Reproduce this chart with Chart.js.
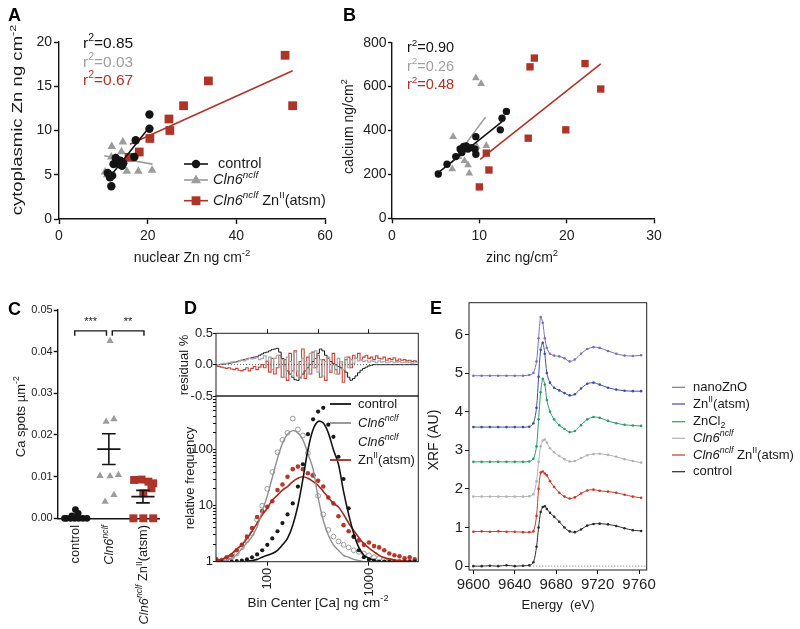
<!DOCTYPE html>
<html><head><meta charset="utf-8">
<script src="https://cdn.jsdelivr.net/npm/chart.js@4.4.1/dist/chart.umd.min.js"></script>
<style>
html,body{margin:0;padding:0;background:#fff;}
body{width:800px;height:629px;position:relative;overflow:hidden;}
canvas{position:absolute;left:0;top:0;}
</style></head><body>
<canvas id="cA" width="800" height="629"></canvas>
<canvas id="cB" width="800" height="629"></canvas>
<canvas id="cC" width="800" height="629"></canvas>
<canvas id="cD1" width="800" height="629"></canvas>
<canvas id="cD2" width="800" height="629"></canvas>
<canvas id="cE" width="800" height="629"></canvas>
<script>
// ================= DATA =================
// Panel A: nuclear Zn (x) vs cytoplasmic Zn (y)
const aCtrlX = [11.8, 11.5, 12.0, 11.0, 12.3, 13.0, 12.8, 13.5, 14.2, 14.5, 13.8, 17.0, 17.3, 20.4, 20.4];
const aCtrlY = [3.7, 4.7, 4.9, 5.2, 6.2, 6.4, 6.9, 6.2, 6.0, 6.3, 6.6, 7.0, 8.9, 10.2, 11.8];
const aClnX = [10.4, 11.9, 14.4, 14.1, 11.8, 13.3, 15.3, 17.9, 21.0, 12.8, 10.9];
const aClnY = [5.3, 8.2, 8.7, 7.6, 7.0, 6.6, 5.4, 5.4, 5.5, 6.9, 5.0];
const aZnX = [15.8, 18.1, 20.5, 24.8, 25.0, 28.1, 33.7, 51.0, 52.7];
const aZnY = [6.97, 7.57, 9.1, 11.3, 10.0, 12.8, 15.6, 18.5, 12.8];
const aFitCtrlX = [10.9, 20.4], aFitCtrlY = [4.4, 10.4];
const aFitClnX = [10.2, 21.1], aFitClnY = [7.15, 6.2];
const aFitZnX = [16.0, 52.7], aFitZnY = [8.45, 16.76];
const aR2 = ['0.85', '0.03', '0.67'];
const aTicksX = [0, 20, 40, 60], aTicksY = [0, 5, 10, 15, 20];

// Panel B: zinc (x) vs calcium (y)
const bCtrlX = [5.3, 6.3, 7.3, 7.8, 8.2, 8.7, 9.1, 9.6, 9.6, 9.5, 12.4, 12.6, 13.1, 8.0, 8.5];
const bCtrlY = [202, 246, 281, 316, 327, 316, 322, 372, 292, 315, 403, 456, 487, 300, 330];
const bClnX = [9.6, 10.2, 7.0, 10.8, 9.7, 8.3, 8.7, 8.85, 6.9, 7.6];
const bClnY = [639, 613, 372, 330, 327, 262, 243, 205, 225, 280];
const bZnX = [16.3, 15.8, 22.1, 23.9, 19.9, 15.6, 10.8, 11.1, 10.0];
const bZnY = [730, 690, 705, 589, 403, 365, 297, 220, 143];
const bFitCtrlX = [5.2, 12.6], bFitCtrlY = [205, 440];
const bFitClnX = [6.8, 10.7], bFitClnY = [251, 461];
const bFitZnX = [10.1, 23.9], bFitZnY = [269, 703];
const bR2 = ['0.90', '0.26', '0.48'];
const bTicksX = [0, 10, 20, 30], bTicksY = [0, 200, 400, 600, 800];

// Panel C: Ca spots per um^2 (dot plot, group index + jitter)
const cCtrlVals = [0, 0, 0, 0, 0, 0, 0, 0.0006, 0.0012, 0.0021];
const cCtrlJit  = [-0.24, -0.12, 0.0, 0.12, 0.24, 0.36, -0.3, -0.08, 0.1, 0.02];
const cClnVals  = [0.0426, 0.0232, 0.0238, 0.0102, 0.0101, 0.0104, 0.0040, 0.0056];
const cClnJit   = [0.035, -0.08, 0.15, -0.26, 0.035, 0.28, -0.11, 0.15];
const cZnVals   = [0.0092, 0.0093, 0.0088, 0.0084, 0.0072, 0.0060, 0, 0, 0];
const cZnJit    = [-0.26, -0.04, 0.16, 0.30, 0.25, 0.01, -0.28, 0.01, 0.30];
const cMean = [0.0003, 0.0166, 0.0052];
const cSem  = [0.0002, 0.0037, 0.0015];
const cBrFrom = [0.0, 1.1], cBrTo = [0.93, 2.03], cBrLabel = ['***', '**'];
const cBrY = 0.0450, cBrDrop = 0.0438;
const cTicksY = [0, 0.01, 0.02, 0.03, 0.04, 0.05];

// Panel D: Ca histogram (bin centers in ng/cm^2)
const dBins = [31.6,35.5,39.8,44.7,50.1,56.2,63.1,70.8,79.4,89.1,100,112,126,141,158,178,200,224,251,282,316,355,398,447,501,562,631,708,794,891,1000,1122,1259,1413,1585,1778,1995,2239,2512,2818];
const dCtrlDots = [1,1,1,1,1.02,1.05,1.1,1.2,1.35,1.6, 2.0,2.6,3.5,4.9,7,11,22,55,190,350, 480,560,280,170,75,30,9,2.8,1.6,1.2, 1.1,1.05,1,1,1,1,1,1,1,1];
const dCtrlFit  = [1,1,1,1,1,1,1.02,1.05,1.1,1.2, 1.3,1.4,1.6,2.0,2.6,4.5,10,30,100,230, 320,300,200,100,55,18,7,3.2,1.8,1.3, 1.15,1.05,1,1,1,1,1,1,1,1];
const dClnDots  = [1,1.05,1.1,1.2,1.4,1.8,2.4,3.2,5.6,10, 20,40,90,150,200,360,230,180,87,35, 15,7,3.7,2.8,2.3,2.0,1.8,1.6,1.5,1.4, 1.3,1.2,1.15,1.1,1.05,1,1,1,1,1];
const dClnFit   = [1,1,1.05,1.15,1.35,1.7,2.2,2.8,4.2,8, 15,32,70,130,190,220,200,150,85,45, 14,5.5,3.0,2.0,1.6,1.3,1.2,1.1,1.05,1, 1,1,1,1,1,1,1,1,1,1];
const dZnDots   = [1.1,1.05,1.2,1.3,1.6,2.0,2.8,4.0,6.3,8, 9.6,12,19,24,33,45,50,45,38,35, 28,22,14,11,6.5,4.5,3.5,2.8,2.4,2.0, 2.2,1.9,1.8,1.6,1.4,1.3,1.25,1.15,1.2,1.1];
const dZnFit    = [1.05,1.1,1.2,1.4,1.7,2.0,2.6,3.5,4.9,6.8, 9,12.6,15.5,19,22,27,31,33,31,27, 23,18,14,11,9.5,7,4.9,3.6,2.7,2.1, 1.75,1.5,1.3,1.18,1.12,1.07,1.04,1.02,1.01,1.0];
// residuals use finer bins
const dResBins = [31.6,33.5,35.5,37.6,39.8,42.2,44.7,47.3,50.1,53.1,56.2,59.6,63.1,66.8,70.8,75.0,79.4,84.1,89.1,94.4,100,106,112,119,126,133,141,150,158,168,178,188,200,211,224,237,251,266,282,299,316,335,355,376,398,422,447,473,501,531,562,596,631,668,708,750,794,841,891,944,1000,1059,1122,1189,1259,1334,1413,1496,1585,1679,1778,1884,1995,2113,2239,2371,2512,2661,2818,2985];
const dResCtrl = [0,0,0.005,0.01,0.015,0.02,0.03,0.04,0.05,0.06, 0.07,0.08,0.09,0.1,0.11,0.12,0.13,0.15,0.17,0.19, 0.2,0.22,0.24,0.25,0.26,0.2,0.1,0.0,-0.1,-0.15, -0.2,-0.24,-0.25,-0.2,-0.15,-0.1,-0.05,0.0,0.05,0.1, 0.18,0.25,0.22,0.15,0.1,0.05,0.02,0.0,-0.03,-0.05, -0.08,-0.12,-0.2,-0.25,-0.22,-0.18,-0.13,-0.09,-0.06,-0.04, -0.02,-0.01,0,0,0,0,0,0,0,0, 0,0,0,0,0,0,0,0,0,0];
const dResCln = [0,0,0.01,0.02,0.02,0.03,0.04,0.05,0.04,0.06, 0.07,0.06,0.08,0.1,0.09,0.1,0.12,0.08,0.1,0.14, 0.06,0.12,-0.08,0.1,0.15,-0.05,0.08,-0.2,0.12,0.05, -0.18,0.2,-0.1,-0.22,0.1,0.05,-0.15,0.18,-0.05,0.22, -0.12,0.08,-0.18,0.05,0.12,-0.1,0.0,-0.15,0.1,0.05, -0.08,0.12,-0.05,0.08,0.02,0.1,0.06,0.08,0.05,0.07, 0.04,0.06,0.05,0.03,0.06,0.04,0.05,0.03,0.04,0.05, 0.03,0.04,0.05,0.03,0.04,0.03,0.04,0.02,0.03,0.03];
const dResZn = [-0.02,-0.03,-0.04,-0.05,-0.06,-0.05,-0.07,-0.08,-0.06,-0.09, -0.1,-0.08,-0.05,-0.1,-0.06,-0.03,-0.08,-0.04,0.0,-0.05, 0.05,-0.12,0.1,-0.15,-0.05,0.15,-0.2,0.08,-0.25,0.18, -0.1,0.22,-0.18,0.05,0.25,-0.22,0.12,-0.15,0.2,-0.05, 0.15,-0.2,0.08,-0.25,0.1,-0.12,0.18,-0.08,-0.15,0.05, -0.28,0.08,0.12,-0.05,0.15,0.1,0.18,0.08,0.12,0.15, 0.1,0.12,0.08,0.14,0.1,0.09,0.12,0.07,0.1,0.08, 0.11,0.06,0.09,0.07,0.08,0.06,0.07,0.05,0.06,0.05];
const dTicksRes = [-0.5, 0, 0.5];
const dTicksTop = [100, 316, 1000];
const dTicksX = [100, 1000];
const dTicksYMajor = [1, 10, 100];

// Panel E: Zn K-edge XANES spectra (offset)
const eE = [9600,9608,9616,9624,9632,9640,9648,9654,9658,9661,9663,9665,9667,9669,9671,9674,9678,9683,9688,9693,9698,9704,9710,9716,9722,9730,9738,9746,9754,9762];
const eNano  = [4.93,4.93,4.93,4.93,4.93,4.93,4.93,4.95,5.0,5.3, 5.9,6.45,6.3,5.9,5.65,5.5,5.45,5.43,5.38,5.3, 5.35,5.5,5.62,5.67,5.65,5.57,5.5,5.45,5.44,5.46];
const eAtsm  = [3.6,3.6,3.6,3.6,3.6,3.6,3.6,3.61,3.7,4.1, 4.9,5.6,5.78,5.5,5.0,4.75,4.62,4.55,4.48,4.42, 4.45,4.6,4.72,4.75,4.7,4.62,4.57,4.54,4.53,4.53];
const eZnCl2 = [2.7,2.7,2.7,2.7,2.7,2.7,2.7,2.71,2.78,3.1, 3.8,4.5,4.85,4.7,4.3,4.0,3.8,3.65,3.55,3.47, 3.5,3.65,3.8,3.86,3.84,3.76,3.7,3.66,3.64,3.63];
const eCln   = [1.8,1.8,1.8,1.8,1.8,1.8,1.8,1.81,1.86,2.2, 2.7,3.1,3.25,3.28,3.2,3.05,2.95,2.85,2.77,2.71, 2.72,2.8,2.87,2.9,2.91,2.88,2.83,2.77,2.72,2.68];
const eClnZn = [0.89,0.9,0.89,0.9,0.89,0.89,0.88,0.88,0.9,1.3, 2.0,2.42,2.45,2.4,2.35,2.2,2.05,1.9,1.8,1.75, 1.78,1.88,1.96,1.98,1.95,1.93,1.9,1.85,1.8,1.77];
const eCtrl  = [0,0,0.01,0,0.02,0,0.01,0.02,0.1,0.5, 1.0,1.4,1.53,1.55,1.48,1.38,1.28,1.15,1.0,0.9, 0.88,0.95,1.05,1.09,1.1,1.08,1.04,0.98,0.93,0.91];
const eTicksX = [9600, 9640, 9680, 9720, 9760];
const eTicksY = [0, 1, 2, 3, 4, 5, 6];

// ================= HELPERS =================
const FONT = "'Liberation Sans', Arial, Helvetica, sans-serif";
const W = 800, H = 629, YW = 60, XH = 45;
const BLACK = '#141414', GRAY = '#9c9c9c', RED = '#ad3428';
const T=(t,c)=>({t,c}), I=(t,c)=>({t,i:1,c}), S=(t,c)=>({t,sup:1,c}), SI=(t,c)=>({t,sup:1,i:1,c}), SB=(t,c)=>({t,sub:1,c});

function rich(ctx, segs, x, y, o) {
  const size = o.size || 14;
  const f = s => `${s.i ? 'italic ' : ''}${o.bold ? 'bold ' : ''}${(s.sup || s.sub) ? (size * 0.68).toFixed(1) : size}px ${FONT}`;
  let w = 0; segs.forEach(s => { ctx.font = f(s); w += ctx.measureText(s.t).width; });
  ctx.save(); ctx.translate(x, y); if (o.rot) ctx.rotate(o.rot); if (o.sx) ctx.scale(o.sx, 1);
  let cx = o.align === 'center' ? -w / 2 : o.align === 'right' ? -w : 0;
  ctx.textBaseline = 'middle'; ctx.textAlign = 'left';
  segs.forEach(s => {
    ctx.font = f(s); ctx.fillStyle = s.c || o.color || '#1a1a1a';
    const dy = s.sup ? -size * 0.36 : s.sub ? size * 0.28 : 0;
    ctx.fillText(s.t, cx, dy); cx += ctx.measureText(s.t).width;
  });
  ctx.restore();
}
function marker(ctx, style, x, y, r, fill) {
  ctx.save(); ctx.beginPath();
  if (style === 'circle') ctx.arc(x, y, r, 0, Math.PI * 2);
  else if (style === 'rect') ctx.rect(x - r, y - r, 2 * r, 2 * r);
  else { ctx.moveTo(x, y - r * 1.1); ctx.lineTo(x + r, y + r * 0.65); ctx.lineTo(x - r, y + r * 0.65); ctx.closePath(); }
  ctx.fillStyle = fill; ctx.fill(); ctx.restore();
}
function hline(ctx, x1, x2, y, color, w, dash) {
  ctx.save(); ctx.strokeStyle = color; ctx.lineWidth = w || 1.5; if (dash) ctx.setLineDash(dash);
  ctx.beginPath(); ctx.moveTo(x1, y); ctx.lineTo(x2, y); ctx.stroke(); ctx.restore();
}
function frame(ctx, a) {
  ctx.save(); ctx.strokeStyle = '#222'; ctx.lineWidth = 1; ctx.strokeRect(a.left, a.top, a.right - a.left, a.bottom - a.top); ctx.restore();
}
const pts = (xs, ys) => xs.map((x, i) => ({ x, y: ys[i] }));

function axis(pos, o) {
  const isX = pos === 'bottom' || pos === 'top';
  return {
    type: o.type || 'linear', position: pos, min: o.min, max: o.max, display: true,
    afterFit: s => { if (isX) s.height = XH; else s.width = YW; },
    afterBuildTicks: s => { s.ticks = o.ticks.map(v => ({ value: v })); },
    border: { display: o.border !== false, color: '#111', width: o.bw || 1.4 },
    grid: { display: o.grid !== false, drawOnChartArea: false, drawTicks: true, tickLength: o.tl || 5,
            tickWidth: o.tw || 1.4, tickColor: '#111' },
    ticks: { display: o.labels !== false, color: '#222', font: { family: FONT, size: o.fs || 14 }, padding: o.pad ?? 3,
             maxRotation: o.rot || 0, minRotation: o.rot || 0, autoSkip: false, callback: o.cb || (v => String(v)) }
  };
}
function makeChart(id, datasets, scales, L, Tp, R, B, deco, opt = {}) {
  return new Chart(document.getElementById(id), {
    type: 'scatter',
    data: { datasets },
    options: {
      animation: false, responsive: false, devicePixelRatio: 1, events: [],
      layout: { autoPadding: false, padding: { left: L - YW, top: opt.xTop ? Tp - XH : Tp, right: W - R, bottom: opt.noBottom ? H - B : H - B - XH } },
      scales,
      plugins: { legend: { display: false }, tooltip: { enabled: false } }
    },
    plugins: [{ id: 'deco' + id, afterDatasetsDraw(c) { deco && deco(c, c.ctx); } }]
  });
}
const scat = (data, style, r, color, extra) => Object.assign({ data, pointStyle: style, pointRadius: r, pointBackgroundColor: color, pointBorderColor: color, pointBorderWidth: 0, showLine: false, clip: false }, extra || {});
const line = (data, color, w, extra) => Object.assign({ data, showLine: true, borderColor: color, borderWidth: w || 1.5, pointRadius: 0, fill: false }, extra || {});

// ================= PANEL A =================
makeChart('cA', [
  scat(pts(aCtrlX, aCtrlY), 'circle', 4.2, BLACK),
  line(pts(aFitCtrlX, aFitCtrlY), BLACK, 1.6),
  line(pts(aFitZnX, aFitZnY), RED, 1.6),
  scat(pts(aZnX, aZnY), 'rect', 6.2, RED),
  line(pts(aFitClnX, aFitClnY), GRAY, 1.6),
  scat(pts(aClnX, aClnY), 'triangle', 5, GRAY)
], {
  x: axis('bottom', { min: 0, max: 60, ticks: aTicksX, pad: 4 }),
  y: axis('left', { min: 0, max: 20, ticks: aTicksY, pad: 2 })
}, 59, 42, 325, 219, (c, ctx) => {
  rich(ctx, [T('A')], 8, 16, { size: 18, bold: true, color: '#000' });
  const cols = [BLACK, '#a0a0a0', RED];
  aR2.forEach((v, i) => rich(ctx, [T('r'), S('2'), T('=' + v)], 83, 43.5 + i * 18.8, { size: 15.5, color: cols[i] }));
  rich(ctx, [T('nuclear Zn ng cm'), S('-2')], 192, 258, { size: 14, align: 'center' });
  rich(ctx, [T('cytoplasmic Zn ng cm'), S('-2')], 18, 120, { size: 14.5, sx: 1.28, align: 'center', rot: -Math.PI / 2 });
  const rows = [
    { y: 164, col: BLACK, st: 'circle', r: 4.2, segs: [T('control')], x: 218 },
    { y: 180, col: GRAY, st: 'triangle', r: 5, segs: [I('Cln6'), SI('nclf')], x: 213 },
    { y: 200.7, col: RED, st: 'rect', r: 4.4, segs: [I('Cln6'), SI('nclf'), T(' Zn'), S('II'), T('(atsm)')], x: 213 }
  ];
  rows.forEach(rw => { hline(ctx, 184, 208, rw.y, rw.col, 1.6); marker(ctx, rw.st, 196, rw.y, rw.r, rw.col); rich(ctx, rw.segs, rw.x, rw.y, { size: 14.5 }); });
});

// ================= PANEL B =================
makeChart('cB', [
  scat(pts(bCtrlX, bCtrlY), 'circle', 3.7, BLACK),
  line(pts(bFitCtrlX, bFitCtrlY), BLACK, 1.6),
  line(pts(bFitZnX, bFitZnY), RED, 1.6),
  scat(pts(bZnX, bZnY), 'rect', 5.2, RED),
  line(pts(bFitClnX, bFitClnY), GRAY, 1.6),
  scat(pts(bClnX, bClnY), 'triangle', 4.5, GRAY)
], {
  x: axis('bottom', { min: 0, max: 30, ticks: bTicksX, pad: 4 }),
  y: axis('left', { min: 0, max: 800, ticks: bTicksY, pad: 1.5, tl: 4 })
}, 392, 42.7, 654, 218.3, (c, ctx) => {
  rich(ctx, [T('B')], 343, 16, { size: 18, bold: true, color: '#000' });
  const cols = [BLACK, '#a0a0a0', RED];
  bR2.forEach((v, i) => rich(ctx, [T('r'), S('2'), T('=' + v)], 407, 48.3 + i * 18.4, { size: 14.5, color: cols[i] }));
  rich(ctx, [T('zinc ng/cm'), S('2')], 522, 258, { size: 14, align: 'center' });
  rich(ctx, [T('calcium ng/cm'), S('2')], 349, 126.5, { size: 14, align: 'center', rot: -Math.PI / 2 });
});

// ================= PANEL C =================
const cDs = [];
[[cCtrlVals, cCtrlJit, 0, 'circle', 3.4, BLACK], [cClnVals, cClnJit, 1, 'triangle', 4.2, GRAY], [cZnVals, cZnJit, 2, 'rect', 5.6, RED]]
  .forEach(([vals, jit, g, st, r, col]) => cDs.push(scat(vals.map((v, i) => ({ x: g + jit[i], y: v })), st, r, col)));
cMean.forEach((m, g) => {
  cDs.unshift(line([{ x: g - 0.34, y: m }, { x: g + 0.34, y: m }], BLACK, 1.6));
  cDs.unshift(line([{ x: g, y: m - cSem[g] }, { x: g, y: m + cSem[g] }], BLACK, 1.6));
  cDs.unshift(line([{ x: g - 0.2, y: m + cSem[g] }, { x: g + 0.2, y: m + cSem[g] }], BLACK, 1.6));
  cDs.unshift(line([{ x: g - 0.2, y: m - cSem[g] }, { x: g + 0.2, y: m - cSem[g] }], BLACK, 1.6));
});
cBrFrom.forEach((a, k) => cDs.push(line([{ x: a, y: cBrDrop }, { x: a, y: cBrY }, { x: cBrTo[k], y: cBrY }, { x: cBrTo[k], y: cBrDrop }], BLACK, 1.4)));
makeChart('cC', cDs, {
  x: axis('bottom', { min: -0.5, max: 2.5, ticks: [0, 1, 2], labels: false, grid: false }),
  y: axis('left', { min: 0, max: 0.05, ticks: cTicksY, fs: 11, tl: 4, pad: 1, cb: v => v.toFixed(2) })
}, 57.7, 310, 160, 518.3, (c, ctx) => {
  const xs = c.scales.x, ys = c.scales.y;
  rich(ctx, [T('C')], 8, 310, { size: 18, bold: true, color: '#000' });
  rich(ctx, [T('Ca spots µm'), S('-2')], 21, 416.7, { size: 13, align: 'center', rot: -Math.PI / 2 });
  const labs = [[T('control')], [I('Cln6'), SI('nclf')], [I('Cln6'), SI('nclf'), T(' Zn'), S('II'), T('(atsm)')]];
  labs.forEach((segs, g) => rich(ctx, segs, xs.getPixelForValue(g) + 1, 525, { size: 12.8, align: 'right', rot: -Math.PI / 2 }));
  cBrLabel.forEach((t, k) => rich(ctx, [T(t)], xs.getPixelForValue((cBrFrom[k] + cBrTo[k]) / 2), ys.getPixelForValue(0.0472), { size: 11, align: 'center' }));
});

// ================= PANEL D (residuals) =================
makeChart('cD1', [
  line(pts(dResBins, dResCln), '#a8a8a8', 1.1, { stepped: 'middle' }),
  line(pts(dResBins, dResZn), '#c0473a', 1.1, { stepped: 'middle' }),
  line(pts(dResBins, dResCtrl), BLACK, 1.0, { stepped: 'middle' })
], {
  x: axis('top', { type: 'logarithmic', min: 31.3, max: 3055, ticks: dTicksTop, labels: false, border: false, tl: 4, tw: 1 }),
  y: axis('left', { min: -0.5, max: 0.5, ticks: dTicksRes, fs: 13, tl: 3, pad: 0, border: false, tw: 1, cb: v => v.toFixed(1) })
}, 216, 333.3, 418.3, 396, (c, ctx) => {
  const a = c.chartArea, ys = c.scales.y;
  hline(ctx, a.left, a.right, ys.getPixelForValue(0), '#555', 1, [1, 2]);
  frame(ctx, a);
  rich(ctx, [T('D')], 184, 309, { size: 18, bold: true, color: '#000' });
  rich(ctx, [T('residual %')], 184, 365, { size: 13, align: 'center', rot: -Math.PI / 2 });
}, { xTop: true, noBottom: true });

// ================= PANEL D (histogram) =================
const dMinor = [];
[1, 10, 100].forEach(d => [2, 3, 4, 5, 6, 7, 8, 9].forEach(m => dMinor.push(d * m)));
makeChart('cD2', [
  line(pts(dBins, dCtrlFit), BLACK, 1.6, { tension: 0.35 }),
  line(pts(dBins, dClnFit), '#8f8f8f', 1.4, { tension: 0.35 }),
  line(pts(dBins, dZnFit), '#a52a1f', 1.6, { tension: 0.35 }),
  scat(pts(dBins, dCtrlDots), 'circle', 2.1, '#1a1a1a', { clip: true }),
  scat(pts(dBins, dZnDots), 'circle', 2.3, '#b5392c', { clip: true }),
  scat(pts(dBins, dClnDots), 'circle', 2.4, 'rgba(0,0,0,0)', { pointBorderColor: '#9a9a9a', pointBorderWidth: 1, clip: true })
], {
  x: axis('bottom', { type: 'logarithmic', min: 31.3, max: 3055, ticks: dTicksX, fs: 13, rot: 90, tl: 4, tw: 1, pad: 2, border: false }),
  y: axis('left', { type: 'logarithmic', min: 1, max: 912, ticks: dTicksYMajor.concat(dMinor), fs: 13, tl: 3, tw: 1, pad: 0, border: false,
                    cb: v => dTicksYMajor.includes(v) ? String(v) : '' })
}, 216, 396, 418.3, 561.7, (c, ctx) => {
  frame(ctx, c.chartArea);
  rich(ctx, [T('relative frequency')], 190, 478, { size: 13, align: 'center', rot: -Math.PI / 2 });
  rich(ctx, [T('Bin Center [Ca] ng cm'), S('-2')], 318, 603, { size: 13.5, align: 'center' });
  const rows = [
    { y: 404, col: BLACK, segs: [T('control')], line: true },
    { y: 423, col: '#8f8f8f', segs: [I('Cln6'), SI('nclf')], line: true },
    { y: 442, col: null, segs: [I('Cln6'), SI('nclf')], line: false },
    { y: 460, col: '#a52a1f', segs: [T('Zn'), S('II'), T('(atsm)')], line: true }
  ];
  rows.forEach(rw => { if (rw.line) hline(ctx, 330, 351, rw.y, rw.col, 1.8); rich(ctx, rw.segs, 358, rw.y, { size: 13 }); });
});

// ================= PANEL E =================
const eSeries = [
  [eNano, '#7f6fb6'], [eAtsm, '#3f4ea0'], [eZnCl2, '#2f9a6c'], [eCln, '#b3b3b3'], [eClnZn, '#c23b2c'], [eCtrl, '#2b2b2b']
];
makeChart('cE', eSeries.map(([vals, col]) => line(pts(eE, vals), col, 1, { pointRadius: 1.3, pointBackgroundColor: col, pointBorderWidth: 0, tension: 0.3 })), {
  x: axis('bottom', { min: 9595.8, max: 9767.4, ticks: eTicksX, fs: 15, tl: 4, tw: 1, pad: 2, border: false }),
  y: axis('left', { min: -0.1, max: 6.82, ticks: eTicksY, fs: 15, tl: 4, tw: 1, pad: 2, border: false })
}, 469, 302.7, 646.7, 570, (c, ctx) => {
  const a = c.chartArea, ys = c.scales.y, xs = c.scales.x;
  hline(ctx, xs.getPixelForValue(9655), a.right, ys.getPixelForValue(0), '#777', 1, [1, 2]);
  frame(ctx, a);
  rich(ctx, [T('E')], 430, 309, { size: 18, bold: true, color: '#000' });
  rich(ctx, [T('XRF (AU)')], 434, 440, { size: 14, align: 'center', rot: -Math.PI / 2 });
  rich(ctx, [T('Energy  (eV)')], 558, 605, { size: 13, align: 'center' });
  const labs = [[T('nanoZnO')], [T('Zn'), S('II'), T('(atsm)')], [T('ZnCl'), SB('2')], [I('Cln6'), SI('nclf')],
                [I('Cln6'), SI('nclf'), T(' Zn'), S('II'), T('(atsm)')], [T('control')]];
  const ly = [387.3, 404, 421.7, 438.3, 455, 471.7];
  labs.forEach((segs, i) => { hline(ctx, 672, 685, ly[i], eSeries[i][1], 1.2); rich(ctx, segs, 693, ly[i], { size: 13 }); });
});
</script>
</body></html>
